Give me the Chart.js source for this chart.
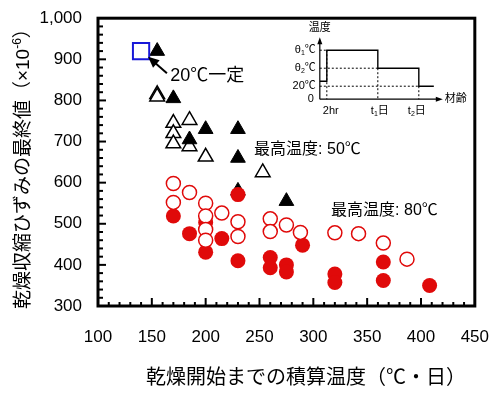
<!DOCTYPE html>
<html>
<head>
<meta charset="utf-8">
<script src="https://cdn.jsdelivr.net/npm/chart.js@4.4.0/dist/chart.umd.min.js"></script>
<style>
  body { margin: 0; background: #fff; }
  #wrap { width: 502px; height: 397px; }
</style>
</head>
<body>
<div id="wrap"><canvas id="shrink_chart"></canvas></div>
<script>
// 20℃一定
const constX = [140];
const constY = [920];

// 最高温度 50℃ (black = filled, white = open)
const tri50FilledX = [155, 170, 185, 200, 230, 230, 230, 275];
const tri50FilledY = [920, 805, 705, 730, 730, 660, 580, 555];
const tri50OpenX = [155, 155, 170, 170, 170, 185, 185, 200, 253];
const tri50OpenY = [815, 809, 745, 720, 695, 752, 688, 663, 625];

// 最高温度 80℃
const circ80OpenX = [170, 170, 185, 200, 200, 200, 200, 215, 230, 230, 260, 260, 275, 288, 320, 342, 365, 387];
const circ80OpenY = [598, 552, 576, 550, 519, 486, 460, 526, 505, 469, 512, 481, 497, 479, 478, 476, 453, 414];
const circ80FilledX = [170, 185, 200, 200, 215, 230, 230, 260, 260, 275, 275, 290, 320, 320, 365, 365, 408];
const circ80FilledY = [519, 476, 503, 431, 464, 571, 410, 418, 393, 400, 383, 448, 378, 357, 407, 362, 350];

const xTicks = [100, 150, 200, 250, 300, 350, 400, 450];
const yTicks = [300, 400, 500, 600, 700, 800, 900, 1000];

const colors = {
    red: '#e00a0a',
    blue: '#1818d8',
    black: '#000',
    white: '#fff',
};
const font = '"Liberation Sans", "Noto Sans CJK JP", sans-serif';

function pts(xs, ys) {
    return xs.map((x, i) => ({ x: x, y: ys[i] }));
}

function line(ctx, x1, y1, x2, y2) {
    ctx.beginPath();
    ctx.moveTo(x1, y1);
    ctx.lineTo(x2, y2);
    ctx.stroke();
}

// draws a text made of pieces [text, size, dy]
function drawParts(ctx, parts, x, y, align) {
    let w = 0;
    parts.forEach(p => { ctx.font = p[1] + 'px ' + font; w += ctx.measureText(p[0]).width; });
    let cx = align === 'right' ? x - w : align === 'center' ? x - w / 2 : x;
    ctx.textAlign = 'left';
    ctx.textBaseline = 'middle';
    parts.forEach(p => {
        ctx.font = p[1] + 'px ' + font;
        ctx.fillText(p[0], cx, y + (p[2] || 0));
        cx += ctx.measureText(p[0]).width;
    });
}

const framePlugin = {
    id: 'frame',
    beforeDatasetsDraw(chart) {
        const { ctx, chartArea: a, scales: { x, y } } = chart;
        ctx.save();
        ctx.strokeStyle = colors.black;
        ctx.lineWidth = 2;
        for (let v = 110; v < 450; v += 10) {
            const px = x.getPixelForValue(v);
            line(ctx, px, a.bottom, px, a.bottom - (v % 50 === 0 ? 8 : 4));
        }
        for (let v = 320; v < 1000; v += 20) {
            const py = y.getPixelForValue(v);
            line(ctx, a.left, py, a.left + (v % 100 === 0 ? 8 : 5), py);
        }
        ctx.lineWidth = 3;
        ctx.strokeRect(a.left, a.top, a.right - a.left, a.bottom - a.top);

        // inset: temperature schedule
        const ox = a.right - 155, oy = a.top + 81;
        ctx.lineWidth = 1.2;
        line(ctx, ox, oy, ox, oy - 57);
        line(ctx, ox, oy, ox + 118, oy);
        ctx.fillStyle = colors.black;
        ctx.beginPath();
        ctx.moveTo(ox, oy - 62); ctx.lineTo(ox - 2.5, oy - 55); ctx.lineTo(ox + 2.5, oy - 55); ctx.closePath(); ctx.fill();
        ctx.beginPath();
        ctx.moveTo(ox + 123, oy); ctx.lineTo(ox + 116, oy - 2.5); ctx.lineTo(ox + 116, oy + 2.5); ctx.closePath(); ctx.fill();

        ctx.lineWidth = 1.4;
        ctx.beginPath();
        ctx.moveTo(ox, oy - 18);
        ctx.lineTo(ox + 7, oy - 18);
        ctx.lineTo(ox + 7, oy - 49);
        ctx.lineTo(ox + 58, oy - 49);
        ctx.lineTo(ox + 58, oy - 31);
        ctx.lineTo(ox + 99, oy - 31);
        ctx.lineTo(ox + 99, oy - 13);
        ctx.lineTo(ox + 114, oy - 13);
        ctx.stroke();

        ctx.lineWidth = 1;
        ctx.setLineDash([2, 2]);
        line(ctx, ox, oy - 49, ox + 7, oy - 49);
        line(ctx, ox, oy - 31, ox + 58, oy - 31);
        line(ctx, ox, oy - 13, ox + 99, oy - 13);
        line(ctx, ox + 7, oy - 49, ox + 7, oy);
        line(ctx, ox + 58, oy - 31, ox + 58, oy);
        line(ctx, ox + 99, oy - 13, ox + 99, oy);
        ctx.setLineDash([]);

        drawParts(ctx, [['温度', 11]], ox, oy - 71, 'center');
        drawParts(ctx, [['θ', 11], ['1', 7, 3], ['℃', 11]], ox - 4, oy - 49, 'right');
        drawParts(ctx, [['θ', 11], ['2', 7, 3], ['℃', 11]], ox - 4, oy - 31, 'right');
        drawParts(ctx, [['20℃', 11]], ox - 4, oy - 13, 'right');
        drawParts(ctx, [['0', 11]], ox - 6, oy, 'right');
        drawParts(ctx, [['2hr', 11]], ox + 11, oy + 12, 'center');
        drawParts(ctx, [['t', 11], ['1', 7, 3], ['日', 11]], ox + 60, oy + 12, 'center');
        drawParts(ctx, [['t', 11], ['2', 7, 3], ['日', 11]], ox + 97, oy + 12, 'center');
        drawParts(ctx, [['材齢', 11]], ox + 125, oy, 'left');
        ctx.restore();
    },
    afterDatasetsDraw(chart) {
        const { ctx, scales: { x, y } } = chart;
        ctx.save();
        ctx.fillStyle = colors.black;
        ctx.strokeStyle = colors.black;

        // arrow to the 20℃ point
        const tx = x.getPixelForValue(146.5), ty = y.getPixelForValue(906);
        const sx = x.getPixelForValue(164), sy = y.getPixelForValue(866);
        const ang = Math.atan2(ty - sy, tx - sx);
        ctx.lineWidth = 2;
        line(ctx, sx, sy, tx - Math.cos(ang) * 8, ty - Math.sin(ang) * 8);
        ctx.beginPath();
        ctx.moveTo(tx, ty);
        ctx.lineTo(tx - Math.cos(ang) * 11 - Math.sin(ang) * 5, ty - Math.sin(ang) * 11 + Math.cos(ang) * 5);
        ctx.lineTo(tx - Math.cos(ang) * 11 + Math.sin(ang) * 5, ty - Math.sin(ang) * 11 - Math.cos(ang) * 5);
        ctx.closePath();
        ctx.fill();

        drawParts(ctx, [['20℃一定', 18]], x.getPixelForValue(167), y.getPixelForValue(860), 'left');
        drawParts(ctx, [['最高温度: 50℃', 16]], x.getPixelForValue(245), y.getPixelForValue(680), 'left');
        drawParts(ctx, [['最高温度: 80℃', 16]], x.getPixelForValue(316.5), y.getPixelForValue(533), 'left');
        ctx.restore();
    },
    afterDraw(chart) {
        const { ctx, chartArea: a } = chart;
        ctx.save();
        ctx.fillStyle = colors.black;
        drawParts(ctx, [['乾燥開始までの積算温度（℃・日）', 20]], 306, 378, 'center');
        ctx.translate(24, (a.top + a.bottom) / 2 + 2);
        ctx.rotate(-Math.PI / 2);
        drawParts(ctx, [['乾燥収縮ひずみの最終値（×10', 19], ['-6', 12, -6], ['）', 19]], 0, 0, 'center');
        ctx.restore();
    }
};

new Chart(document.getElementById('shrink_chart'), {
    type: 'scatter',
    data: {
        datasets: [{
            label: '20℃一定',
            data: pts(constX, constY),
            pointStyle: 'rect',
            pointRadius: 11.5,
            backgroundColor: colors.white,
            borderColor: colors.blue,
            borderWidth: 2,
            order: 0,
        },
        {
            label: '80℃ open',
            data: pts(circ80OpenX, circ80OpenY),
            pointStyle: 'circle',
            pointRadius: 7,
            backgroundColor: colors.white,
            borderColor: colors.red,
            borderWidth: 1.5,
            order: 1,
        },
        {
            label: '80℃ filled',
            data: pts(circ80FilledX, circ80FilledY),
            pointStyle: 'circle',
            pointRadius: 7.5,
            backgroundColor: colors.red,
            borderColor: colors.red,
            borderWidth: 0,
            order: 2,
        },
        {
            label: '50℃ filled',
            data: pts(tri50FilledX, tri50FilledY),
            pointStyle: 'triangle',
            pointRadius: 8.5,
            backgroundColor: colors.black,
            borderColor: colors.black,
            borderWidth: 1,
            order: 3,
        },
        {
            label: '50℃ open',
            data: pts(tri50OpenX, tri50OpenY),
            pointStyle: 'triangle',
            pointRadius: 8.5,
            backgroundColor: colors.white,
            borderColor: colors.black,
            borderWidth: 1.5,
            order: 4,
        }]
    },
    options: {
        responsive: true,
        maintainAspectRatio: false,
        animation: false,
        layout: {
            padding: { top: 12, right: 21, left: 0, bottom: 0 }
        },
        plugins: {
            legend: { display: false },
            tooltip: { enabled: false }
        },
        scales: {
            x: {
                type: 'linear',
                min: 100,
                max: 450,
                afterFit: (scale) => { scale.height = 91; },
                afterBuildTicks: (scale) => { scale.ticks = xTicks.map(v => ({ value: v })); },
                grid: { display: false },
                border: { display: false },
                ticks: {
                    padding: 13,
                    color: colors.black,
                    font: { size: 17, family: font }
                }
            },
            y: {
                type: 'linear',
                min: 300,
                max: 1000,
                afterFit: (scale) => { scale.width = 98; },
                afterBuildTicks: (scale) => { scale.ticks = yTicks.map(v => ({ value: v })); },
                grid: { display: false },
                border: { display: false },
                ticks: {
                    padding: 8,
                    color: colors.black,
                    font: { size: 17, family: font },
                    callback: (v) => v.toLocaleString('en-US')
                }
            }
        }
    },
    plugins: [framePlugin]
});
</script>
</body>
</html>
